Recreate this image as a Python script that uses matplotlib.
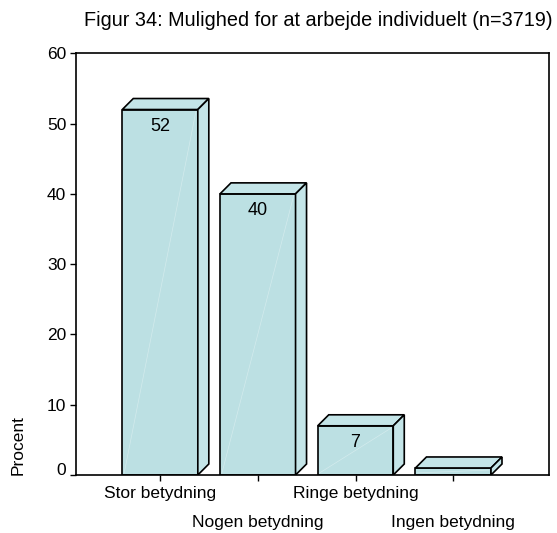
import numpy as np
import matplotlib
matplotlib.use("Agg")
from matplotlib import pyplot as plt
from matplotlib.patches import Polygon
from matplotlib.transforms import ScaledTranslation

# Data
categories = ["Stor betydning", "Nogen betydning", "Ringe betydning", "Ingen betydning"]
values = [52, 40, 7, 1]
labels = ["52", "40", "7", ""]
title = "Figur 34: Mulighed for at arbejde individuelt (n=3719)"

# Style
plt.rcParams['font.family'] = ['Liberation Sans', 'DejaVu Sans']
face = "#bce0e3"
face_light = "#c4e5e8"

W, H = 557, 533
fig = plt.figure(figsize=(W/100, H/100), dpi=100)
ax_l, ax_r, ax_t, ax_b = 76, 549, 53.3, 475
ax = fig.add_axes([ax_l/W, 1-ax_b/H, (ax_r-ax_l)/W, (ax_b-ax_t)/H])

xmin, xmax = -0.86, 3.98
ymin, ymax = 0, 60
ax.set_xlim(xmin, xmax)
ax.set_ylim(ymin, ymax)

# depth offset of the 3D bars: 11 px right and up
px_x = (xmax - xmin) / (ax_r - ax_l)
px_y = (ymax - ymin) / (ax_b - ax_t)
dx, dy = 11 * px_x, 11 * px_y
bw = 0.773

x = np.arange(len(categories))
for xi, v, lab in zip(x, values, labels):
    x0, x1 = xi - bw/2, xi + bw/2
    front = Polygon([(x0, 0), (x1, 0), (x1, v), (x0, v)], closed=True,
                    facecolor=face, edgecolor="black", lw=1.2, zorder=3)
    top = Polygon([(x0, v), (x1, v), (x1+dx, v+dy), (x0+dx, v+dy)], closed=True,
                  facecolor=face_light, edgecolor="black", lw=1.2, zorder=3)
    side = Polygon([(x1, 0), (x1, v), (x1+dx, v+dy), (x1+dx, dy)], closed=True,
                   facecolor=face_light, edgecolor="black", lw=1.2, zorder=3)
    for p in (front, top, side):
        ax.add_patch(p)
    # faint highlight diagonal on front face
    ax.plot([x0 + 0.02, x1 - 0.02], [0.3, v - 0.3], color="white", lw=0.5,
            alpha=0.35, zorder=4)
    if lab:
        ax.text(xi, v - 17*px_y, lab, ha="center", va="center", fontsize=13,
                zorder=5)

for s in ax.spines.values():
    s.set_linewidth(1.2)
    s.set_zorder(6)

ax.set_yticks(np.arange(0, 61, 10))
ax.tick_params(axis="y", direction="out", length=4, width=1, labelsize=12.5, pad=3)
ax.set_xticks(x)
ax.set_xticklabels(categories)
ax.tick_params(axis="x", direction="out", length=4, width=1, labelsize=12.5, pad=4)

# lift the "0" label a little, as in the original
ylabs = ax.get_yticklabels()
ylabs[0].set_transform(ylabs[0].get_transform() + ScaledTranslation(0, 6/100, fig.dpi_scale_trans))

# stagger the x tick labels
for i, t in enumerate(ax.get_xticklabels()):
    if i % 2 == 1:
        t.set_transform(t.get_transform() + ScaledTranslation(0, -29/100, fig.dpi_scale_trans))

fig.text(18/W, 1 - 475/H, "Procent", rotation=90, ha="center", va="bottom",
         fontsize=12.5)
fig.text(553/W, 1 - 21/H, title, ha="right", va="center", fontsize=14.3)

fig.savefig("out.png", dpi=100)
